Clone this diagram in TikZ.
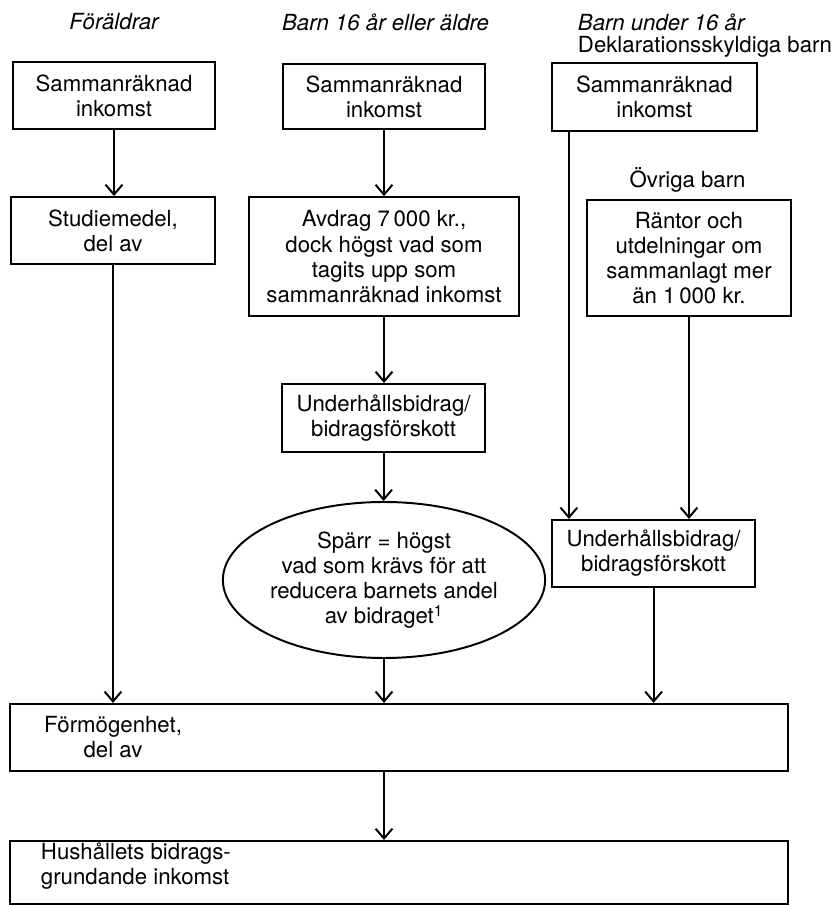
\documentclass[tikz,border=0pt]{standalone}
\usepackage{fontspec}
\setmainfont{TeX Gyre Heros}
\usetikzlibrary{shapes.geometric,arrows.meta}

\begin{document}
\begin{tikzpicture}[line width=1.4pt,
                font=\fontsize{15.8}{17.8}\selectfont,
                box/.style={draw, rectangle, align=center, inner sep=0pt},
                head/.style={inner sep=0pt, font=\fontsize{15.8}{17.8}\selectfont\itshape},
                arr/.style={-{Straight Barb[length=7pt,width=12pt]}}]
                \useasboundingbox (0, 0) rectangle (20.875, 22.625);
                % column heads
                \node[head] (hA) at (2.85, 22.075) {Föräldrar};
                \node[head] (hB) at (9.64, 22.075) {Barn 16 år eller äldre};
                \node[head, anchor=west] (hC) at (14.425, 22.075) {Barn under 16 år};
                \node[inner sep=0pt, anchor=west] (hCa) at (14.425, 21.45) {Deklarationsskyldiga barn};
                % parents
                \node[box, minimum width=5.05cm, minimum height=1.675cm] (A1) at (2.85, 20.24) {Sammanräknad\\inkomst};
                \node[box, minimum width=5.1cm, minimum height=1.675cm] (A2) at (2.825, 16.8625) {Studiemedel,\\del av};
                % children 16 or older
                \node[box, minimum width=5.05cm, minimum height=1.625cm] (B1) at (9.6, 20.21) {Sammanräknad\\inkomst};
                \node[box, minimum width=6.75cm, minimum height=2.975cm] (B2) at (9.6, 16.21) {Avdrag 7\,000 kr.,\\dock högst vad som\\tagits upp som\\sammanräknad inkomst};
                \node[box, minimum width=5.075cm, minimum height=1.7cm] (B3) at (9.59, 12.175) {Underhållsbidrag/\\bidragsförskott};
                \node[draw, ellipse, align=center, inner sep=0pt, minimum width=6.6cm, minimum height=3.9cm] (ell) at (9.6, 8.125) {Spärr = högst\\vad som krävs för att\\reducera barnets andel\\av bidraget\textsuperscript{1}};
                % children under 16
                \node[box, minimum width=5.125cm, minimum height=1.7cm] (C1) at (16.36, 20.2) {Sammanräknad\\inkomst};
                \node[inner sep=0pt] (ovr) at (17.19, 18.125) {Övriga barn};
                \node[box, minimum width=5.1cm, minimum height=2.9cm] (C2) at (17.225, 16.175) {Räntor och\\utdelningar om\\sammanlagt mer\\än 1\,000 kr.};
                \node[box, minimum width=5.075cm, minimum height=1.675cm] (C3) at (16.34, 8.79) {Underhållsbidrag/\\bidragsförskott};
                % household
                \node[box, minimum width=19.45cm, minimum height=1.675cm] (F) at (9.975, 4.19) {};
                \node[align=center, inner sep=0pt] (Ftext) at (A2 |- F) {Förmögenhet,\\del av};
                \node[box, minimum width=19.45cm, minimum height=1.575cm] (H) at (9.975, 0.8125) {};
                \node[align=left, inner sep=0pt, anchor=west] (Htext) at (1.0, 0.9625) {Hushållets bidrags-\\grundande inkomst};
                % arrows
                \draw[arr] (A1.south) -- (A1.south |- A2.north);
                \draw[arr] (A2.south) -- (A2.south |- F.north);
                \draw[arr] (B1.south) -- (B1.south |- B2.north);
                \draw[arr] (B2.south) -- (B2.south |- B3.north);
                \draw[arr] (B3.south) -- (B3.south |- ell.north);
                \draw[arr] (ell.south) -- (ell.south |- F.north);
                \coordinate (c1out) at ([xshift=0.45cm]C1.south west);
                \draw[arr] (c1out) -- (c1out |- C3.north);
                \draw[arr] (C2.south) -- (C2.south |- C3.north);
                \draw[arr] (C3.south) -- (C3.south |- F.north);
                \draw[arr] (ell.south |- F.south) -- (ell.south |- H.north);
        \end{tikzpicture}
\end{document}
